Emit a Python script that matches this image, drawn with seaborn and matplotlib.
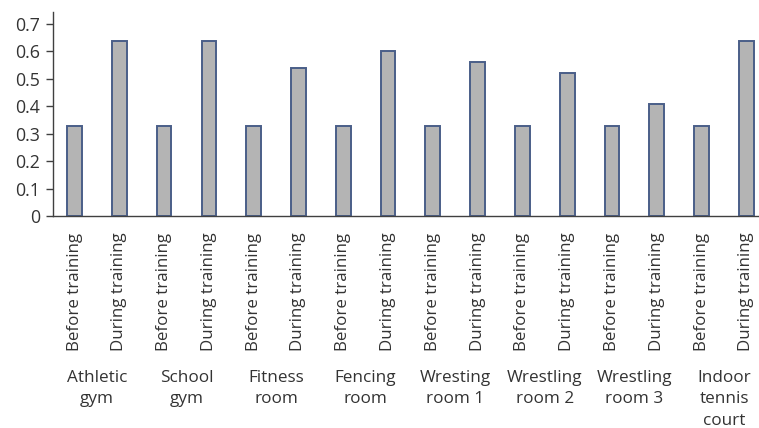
import matplotlib
matplotlib.use("Agg")
import matplotlib.pyplot as plt
import seaborn as sns
import pandas as pd

rooms = ["Athletic\ngym", "School\ngym", "Fitness\nroom", "Fencing\nroom",
         "Wresting\nroom 1", "Wrestling\nroom 2", "Wrestling\nroom 3",
         "Indoor\ntennis\ncourt"]
conditions = ["Before training", "During training"]
before = [0.33, 0.33, 0.33, 0.33, 0.33, 0.33, 0.33, 0.33]
during = [0.64, 0.64, 0.54, 0.60, 0.56, 0.52, 0.41, 0.64]
yticks = [0, 0.1, 0.2, 0.3, 0.4, 0.5, 0.6, 0.7]
ytick_labels = ["0", "0.1", "0.2", "0.3", "0.4", "0.5", "0.6", "0.7"]

rows = []
for i, r in enumerate(rooms):
    rows.append({"key": f"{i}-b", "cond": conditions[0], "value": before[i]})
    rows.append({"key": f"{i}-d", "cond": conditions[1], "value": during[i]})
df = pd.DataFrame(rows)

sns.set_style("white")
plt.rcParams["font.family"] = ["Open Sans", "DejaVu Sans"]

fig = plt.figure(figsize=(7.59, 4.28), dpi=100)
ax = fig.add_axes([53 / 759, (428 - 216) / 428, (759 - 53) / 759, (216 - 12) / 428])

sns.barplot(data=df, x="key", y="value", ax=ax, color="#b4b4b4", saturation=1,
            width=0.33, edgecolor="#4a5e88", linewidth=1.4, errorbar=None)

ax.set_xlim(-0.48, 15.28)
ax.set_ylim(0, 0.744)
ax.set_yticks(yticks)
ax.set_yticklabels(ytick_labels, fontsize=12.8, color="#333333")
ax.set_xticks(range(len(df)))
ax.set_xticklabels(df["cond"], rotation=90, fontsize=12.2, color="#333333")
ax.tick_params(axis="x", length=0, pad=12)
ax.tick_params(axis="y", length=5, width=1, color="#404040", direction="out", pad=4, left=True)
ax.set_xlabel("")
ax.set_ylabel("")
for s in ["top", "right"]:
    ax.spines[s].set_visible(False)
for s in ["left", "bottom"]:
    ax.spines[s].set_color("#404040")
    ax.spines[s].set_linewidth(1)

trans = ax.get_xaxis_transform()
for i, r in enumerate(rooms):
    ax.text(2 * i + 0.5, -0.755, r, transform=trans, ha="center", va="top",
            fontsize=12.3, color="#333333", linespacing=1.45)

fig.savefig("out.png", dpi=100)
